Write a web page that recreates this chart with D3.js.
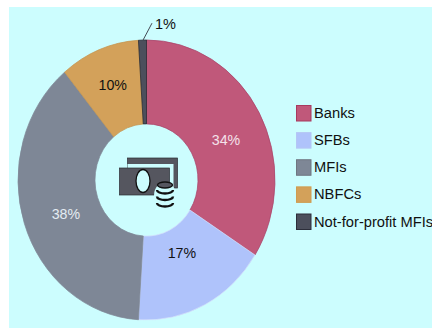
<!DOCTYPE html>
<html>
<head>
<meta charset="utf-8">
<script src="https://cdn.jsdelivr.net/npm/d3@7"></script>
<style>
html,body{margin:0;padding:0;background:#fff;}
svg{display:block;font-family:"Liberation Sans",Arial,sans-serif;}
</style>
</head>
<body>
<svg id="chart" width="432" height="329"></svg>
<script>
const categories = ["Banks", "SFBs", "MFIs", "NBFCs", "Not-for-profit MFIs"];
const shares = [34, 17, 38, 10, 1];
const sliceColors = ["#c0587a", "#afc3fb", "#7e8796", "#d3a15a", "#4c4f5c"];
const sliceEdges = ["#a8436a", "#d4e0fb", "#7e8796", "#c4944f", "#24262e"];
const swatchEdges = ["#a83a5f", "#b4c6f4", "#6f7680", "#cf9c50", "#2c2e3a"];
const labelColors = ["#f4e2ea", "#111111", "#e4ecf2", "#111111", "#111111"];
const labelText = ["34%", "17%", "38%", "10%", "1%"];
const labelNudges = [[1.5, 6.7], [-5, -13], [4, 4], [-1, -5]];
const paper = "#ccfdfe";
const ink = "#55565f";

const svg = d3.select("#chart");
svg.append("rect").attr("x", 9).attr("y", 7).attr("width", 423).attr("height", 321).attr("fill", paper);

// The ring is an ellipse: slightly taller than it is wide
const cx = 146.5, cy = 180, outer = 128.5, inner = 51.5, stretch = 140 / 128.5;
const pie = d3.pie().value(d => d).sort(null);
const arc = d3.arc().innerRadius(inner).outerRadius(outer);
const arcs = pie(shares);
const ring = svg.append("g").attr("transform", `translate(${cx},${cy}) scale(1,${stretch})`);

ring.selectAll("path").data(arcs).join("path")
  .attr("d", arc)
  .attr("fill", (d, i) => sliceColors[i])
  .attr("stroke", (d, i) => sliceEdges[i])
  .attr("stroke-width", 0.7);

// Percentage labels sit mid-ring, except the thin slice, which gets a leader line
const labelArc = d3.arc().innerRadius(89).outerRadius(89);
svg.append("g").selectAll("text").data(arcs.slice(0, 4)).join("text")
  .attr("x", (d, i) => cx + labelArc.centroid(d)[0] + labelNudges[i][0])
  .attr("y", (d, i) => cy + labelArc.centroid(d)[1] * stretch + labelNudges[i][1])
  .attr("text-anchor", "middle").attr("dominant-baseline", "central")
  .attr("font-size", 14.2)
  .attr("fill", (d, i) => labelColors[i])
  .text((d, i) => labelText[i]);

const thin = arcs[4];
const thinAngle = (thin.startAngle + thin.endAngle) / 2;
const leaderX = cx + (outer - 1) * Math.sin(thinAngle);
const leaderY = cy - (outer - 1) * stretch * Math.cos(thinAngle);
svg.append("line")
  .attr("x1", leaderX).attr("y1", leaderY)
  .attr("x2", leaderX + 9.5).attr("y2", leaderY - 18)
  .attr("stroke", "#444a55").attr("stroke-width", 1);
svg.append("text").attr("x", 155).attr("y", 29).attr("font-size", 14.5).attr("fill", labelColors[4]).text(labelText[4]);

// Centre icon: two banknotes and a stack of coins
const icon = svg.append("g");
icon.append("rect").attr("x", 127.5).attr("y", 158).attr("width", 50).attr("height", 30).attr("fill", ink).attr("stroke", "#2a2b33").attr("stroke-width", 0.7);
icon.append("rect").attr("x", 127.5).attr("y", 164).attr("width", 46).attr("height", 26).attr("fill", paper);
icon.append("rect").attr("x", 119.5).attr("y", 168).attr("width", 50).attr("height", 27).attr("fill", ink).attr("stroke", "#2a2b33").attr("stroke-width", 0.7);
icon.append("ellipse").attr("cx", 143).attr("cy", 181).attr("rx", 7).attr("ry", 11.5).attr("fill", paper).attr("stroke", "#111").attr("stroke-width", 1.3);
icon.append("ellipse").attr("cx", 165).attr("cy", 196).attr("rx", 11).attr("ry", 14).attr("fill", paper);
[190, 196.5, 203].forEach(y => {
  icon.append("path")
    .attr("d", `M157,${y}a8,3.5 0 0 0 16,0`)
    .attr("fill", "none").attr("stroke", "#111").attr("stroke-width", 2.4);
});
icon.append("ellipse").attr("cx", 165).attr("cy", 185).attr("rx", 7.5).attr("ry", 3).attr("fill", ink).attr("stroke", "#111").attr("stroke-width", 1.4);

// Legend
const legendY = d3.scalePoint().domain(categories).range([105, 213.5]);
const legend = svg.append("g").selectAll("g").data(categories).join("g")
  .attr("transform", d => `translate(296,${legendY(d)})`);
legend.append("rect").attr("x", 0.5).attr("y", 0.5).attr("width", 14.5).attr("height", 15.5)
  .attr("fill", (d, i) => sliceColors[i])
  .attr("stroke", (d, i) => swatchEdges[i]);
legend.append("text").attr("x", 18).attr("y", 13).attr("font-size", 14.7).attr("fill", "#111").text(d => d);
</script>
</body>
</html>
